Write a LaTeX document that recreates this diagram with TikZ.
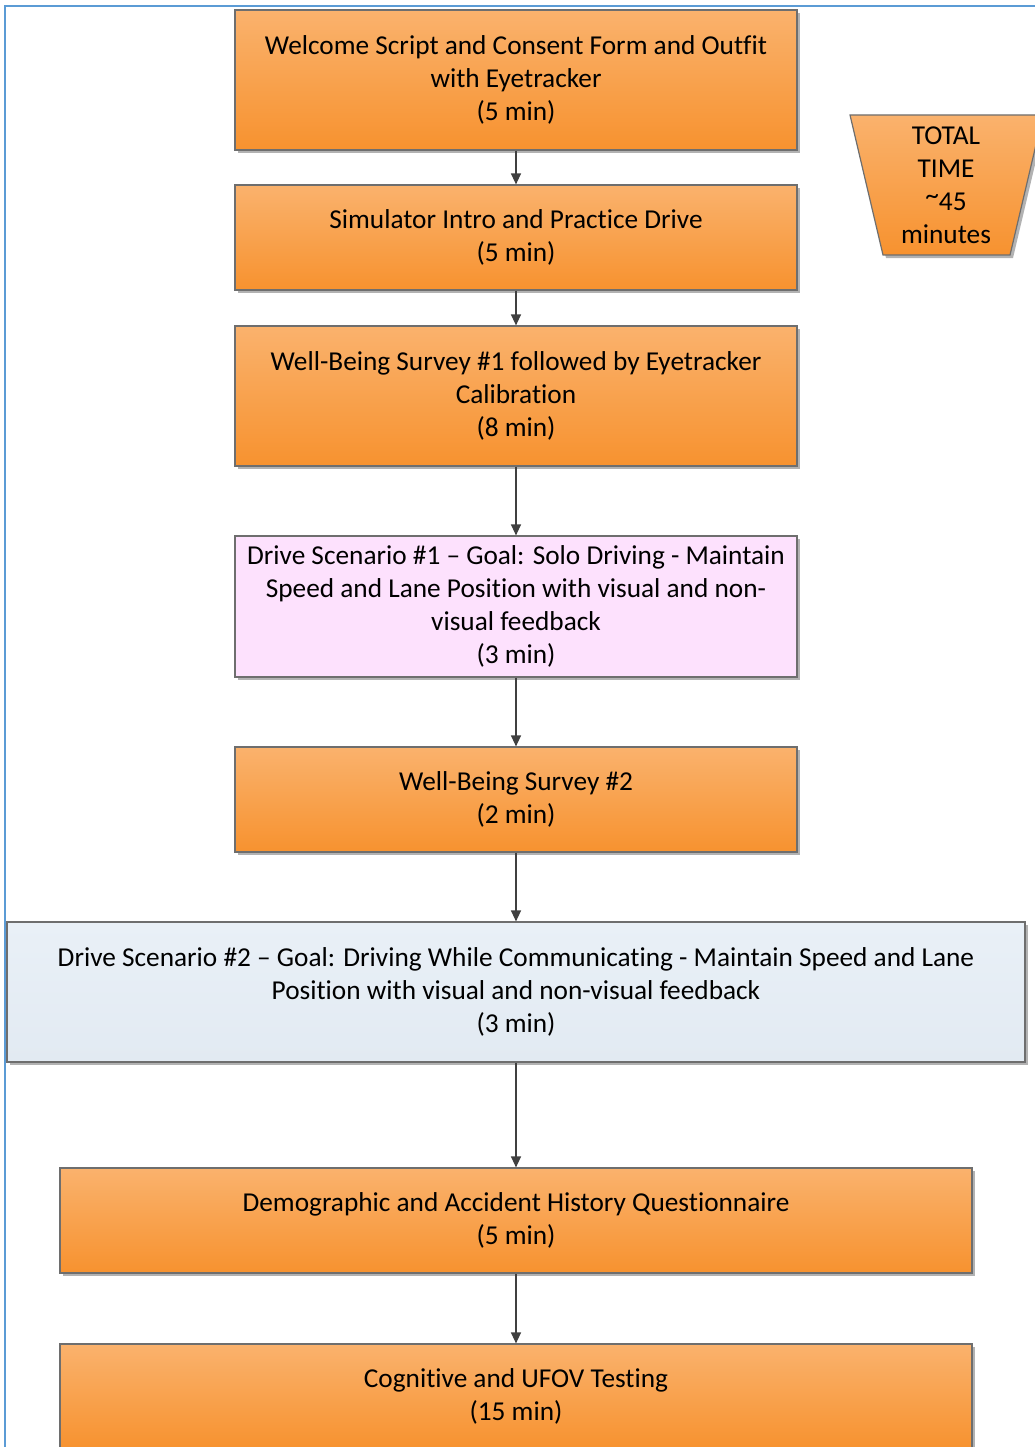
\documentclass[tikz,border=0pt]{standalone}
\usepackage{fontspec}
\setmainfont{Carlito}[Ligatures=NoCommon]
\usetikzlibrary{arrows.meta}
\definecolor{orTop}{HTML}{FAB26D}
\definecolor{orBot}{HTML}{F7922F}
\definecolor{pinkbox}{HTML}{FDE1FD}
\definecolor{blueTop}{HTML}{E9F0F7}
\definecolor{blueBot}{HTML}{E2EAF2}
\definecolor{frameblue}{HTML}{5B9BD5}
\definecolor{edgegray}{HTML}{6E6E6E}
\definecolor{arrowgray}{HTML}{404040}
\tikzset{
  shadowed/.style={preaction={fill=black!30, transform canvas={xshift=3pt,yshift=-3pt}}},
  stepbox/.style={draw=edgegray, line width=1.2pt, shadowed, align=center, inner sep=0pt,
    font=\fontsize{27.3}{33}\selectfont, text=black},
  orangebox/.style={stepbox, top color=orTop, bottom color=orBot},
  pinkstep/.style={stepbox, fill=pinkbox},
  bluestep/.style={stepbox, top color=blueTop, bottom color=blueBot},
  flow/.style={draw=arrowgray, line width=1.3pt, -{Triangle[length=11pt,width=10pt]}},
}
\begin{document}
\begin{tikzpicture}[x=1pt,y=-1pt]
\useasboundingbox (0,0) rectangle (1035,1447);
\draw[frameblue, line width=2pt] (5,1450) -- (5,6) -- (1040,6);

\node[orangebox, minimum width=562, minimum height=140] (b1) at (516,80)
  {Welcome Script and Consent Form and Outfit\\with Eyetracker\\(5 min)};
\node[orangebox, minimum width=562, minimum height=105] (b2) at (516,237.5)
  {Simulator Intro and Practice Drive\\(5 min)};
\node[orangebox, minimum width=562, minimum height=140] (b3) at (516,396)
  {Well-Being Survey \#1 followed by Eyetracker\\Calibration\\(8 min)};
\node[pinkstep, minimum width=562, minimum height=141] (b4) at (516,606.5)
  {Drive Scenario \#1 – Goal: Solo Driving - Maintain\\Speed and Lane Position with visual and non-\\visual feedback\\(3 min)};
\node[orangebox, minimum width=562, minimum height=105] (b5) at (516,799.5)
  {Well-Being Survey \#2\\(2 min)};
\node[bluestep, minimum width=1018, minimum height=140] (b6) at (516,992)
  {Drive Scenario \#2 – Goal: Driving While Communicating - Maintain Speed and Lane\\Position with visual and non-visual feedback\\(3 min)};
\node[orangebox, minimum width=912, minimum height=105] (b7) at (516,1220.5)
  {Demographic and Accident History Questionnaire\\(5 min)};
\node[orangebox, minimum width=912, minimum height=105] (b8) at (516,1396.5)
  {Cognitive and UFOV Testing\\(15 min)};

\draw[draw=edgegray, line width=1.2pt, top color=orTop, bottom color=orBot, shadowed]
  (850,115) -- (1043,115) -- (1010,255) -- (883,255) -- cycle;
\node[align=center, font=\fontsize{27.3}{33}\selectfont, inner sep=0pt] (total) at (946,185)
  {TOTAL\\TIME\\\raisebox{0.22em}{\textasciitilde}45\\minutes};

\draw[flow] (b1) -- (b2);
\draw[flow] (b2) -- (b3);
\draw[flow] (b3) -- (b4);
\draw[flow] (b4) -- (b5);
\draw[flow] (b5) -- (b6);
\draw[flow] (b6) -- (b7);
\draw[flow] (b7) -- (b8);
\end{tikzpicture}
\end{document}
